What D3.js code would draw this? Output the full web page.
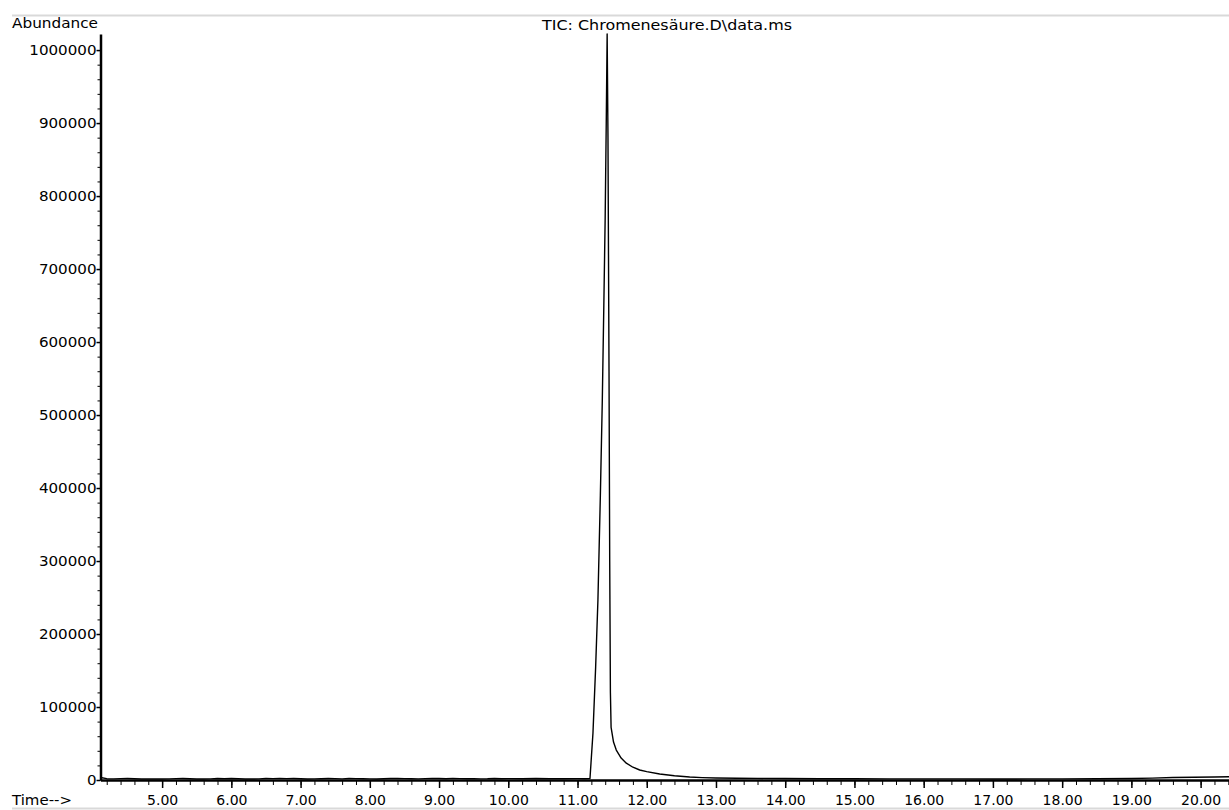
<!DOCTYPE html>
<html>
<head>
<meta charset="utf-8">
<script src="https://cdn.jsdelivr.net/npm/d3@7"></script>
<style>
    body { margin: 0; background: #fff; }
    text { font-family: "DejaVu Sans", sans-serif; fill: #000; }
    .axis path, .axis line { stroke: #000; }
    .line { fill: none; stroke: #000; stroke-width: 1.4; stroke-linejoin: round; }
</style>
</head>
<body>
<script>
// retention time (min) of the TIC trace
let times = [4.11, 4.2, 4.3, 4.4, 4.5, 4.6, 4.7, 4.8, 4.9, 5.0,
    5.1, 5.2, 5.3, 5.4, 5.5, 5.6, 5.7, 5.8, 5.9, 6.0,
    6.1, 6.2, 6.3, 6.4, 6.5, 6.6, 6.7, 6.8, 6.9, 7.0,
    7.1, 7.2, 7.3, 7.4, 7.5, 7.6, 7.7, 7.8, 7.9, 8.0,
    8.1, 8.2, 8.3, 8.4, 8.5, 8.6, 8.7, 8.8, 8.9, 9.0,
    9.1, 9.2, 9.3, 9.4, 9.5, 9.6, 9.7, 9.8, 9.9, 10.0,
    10.2, 10.4, 10.6, 10.8, 11.0, 11.1, 11.18,
    11.223, 11.262, 11.295, 11.33, 11.358, 11.38, 11.399, 11.415, 11.428,
    11.44, 11.455, 11.465, 11.475, 11.485, 11.52, 11.56, 11.63, 11.705, 11.8,
    11.898, 12.0, 12.187, 12.4, 12.62, 12.8, 13.0, 13.3, 13.6, 14.0,
    14.5, 15.0, 15.5, 16.0, 16.5, 17.0, 17.5, 18.0, 18.5, 19.0,
    19.3, 19.6, 19.9, 20.2, 20.41];

// abundance
let abundance = [3500, 1800, 1500, 1900, 2100, 1800, 1400, 1300, 1400, 1300,
    1500, 1900, 2000, 1700, 1400, 1400, 1600, 2000, 1800, 2100,
    1700, 1400, 1400, 1500, 2100, 1900, 2200, 1900, 2100, 1700,
    1400, 1500, 1800, 2100, 1900, 1600, 2000, 1900, 1700, 1500,
    1400, 1700, 2100, 2200, 1900, 1800, 1500, 1900, 2100, 2000,
    1800, 2200, 1900, 1700, 1900, 1600, 1700, 2100, 1800, 1900,
    1700, 2000, 1800, 1700, 1900, 1800, 2000,
    64000, 155000, 247000, 390000, 520000, 650000, 767000, 900000, 1022000,
    880000, 560000, 300000, 120000, 72000, 52000, 41000, 30000, 23000, 17500,
    13700, 11500, 8200, 5800, 4100, 3300, 2700, 2400, 2200, 2000,
    1800, 1700, 1600, 1500, 1500, 1400, 1500, 1500, 1700, 2000,
    2600, 3400, 3800, 4200, 4500];

// axis ticks
let xMajor = [5, 6, 7, 8, 9, 10, 11, 12, 13, 14, 15, 16, 17, 18, 19, 20];
let yMajor = [0, 100000, 200000, 300000, 400000, 500000, 600000, 700000, 800000, 900000, 1000000];

let title = "TIC: Chromenes\u00e4ure.D\\data.ms";

let W = 1229, H = 810;
let margin = {top: 34, right: 0, bottom: 30, left: 100.5},
    height = 780 - margin.top;

let x = d3.scaleLinear().domain([4.11, 20.41]).range([margin.left, W]);
let y = d3.scaleLinear().domain([0, 1022000]).range([780, margin.top]);

let data = times.map(function (t, i) { return {t: t, a: abundance[i]}; });

let svg = d3.select("body").append("svg")
    .attr("width", W)
    .attr("height", H);

// window frame lines
svg.append("line").attr("x1", 12).attr("x2", W).attr("y1", 15.5).attr("y2", 15.5)
    .attr("stroke", "#d9d9d9").attr("stroke-width", 2);
svg.append("line").attr("x1", 12).attr("x2", W).attr("y1", 808.5).attr("y2", 808.5)
    .attr("stroke", "#d9d9d9").attr("stroke-width", 2);

// minor ticks
let xMinor = d3.range(42, 205, 2).map(function (d) { return d / 10; });
let yMinor = d3.range(0, 1000001, 20000);

svg.append("g")
    .attr("class", "axis")
    .attr("transform", "translate(0,780)")
    .call(d3.axisBottom(x).tickValues(xMinor).tickSize(5).tickSizeOuter(0).tickFormat(""))
    .call(function (g) { g.select(".domain").remove(); });

svg.append("g")
    .attr("class", "axis")
    .attr("transform", "translate(" + margin.left + ",0)")
    .call(d3.axisLeft(y).tickValues(yMinor).tickSize(3).tickSizeOuter(0).tickFormat(""))
    .call(function (g) { g.select(".domain").remove(); });

// trace
let valueline = d3.line()
    .x(function (d) { return x(d.t); })
    .y(function (d) { return y(d.a); });

svg.append("path")
    .data([data])
    .attr("class", "line")
    .attr("d", valueline);

// major X axis
let xAxis = svg.append("g")
    .attr("class", "axis")
    .attr("transform", "translate(0,780)")
    .call(d3.axisBottom(x).tickValues(xMajor).tickSize(8).tickPadding(7).tickSizeOuter(0)
        .tickFormat(d3.format(".2f")));
xAxis.select(".domain").attr("stroke-width", 2.5);
xAxis.selectAll(".tick line").attr("stroke-width", 1.5);
xAxis.selectAll("text").style("font-size", "14px").attr("fill", "#000");

// major Y axis
let yAxis = svg.append("g")
    .attr("class", "axis")
    .attr("transform", "translate(" + margin.left + ",0)")
    .call(d3.axisLeft(y).tickValues(yMajor).tickSize(4).tickPadding(0).tickSizeOuter(0)
        .tickFormat(d3.format("d")));
yAxis.select(".domain").attr("stroke-width", 2.5);
yAxis.selectAll(".tick line").attr("stroke-width", 1.5);
yAxis.selectAll("text").style("font-size", "14px").attr("fill", "#000")
    .attr("textLength", function (d) { return String(d).length * 9.6; })
    .attr("lengthAdjust", "spacingAndGlyphs");

// labels
svg.append("text")
    .attr("x", 12).attr("y", 28)
    .style("font-size", "14px")
    .attr("textLength", 86).attr("lengthAdjust", "spacingAndGlyphs")
    .text("Abundance");

svg.append("text")
    .attr("x", 12).attr("y", 805)
    .style("font-size", "14px")
    .attr("textLength", 60).attr("lengthAdjust", "spacingAndGlyphs")
    .text("Time-->");

svg.append("text")
    .attr("x", 542).attr("y", 30)
    .style("font-size", "14px")
    .attr("textLength", 250).attr("lengthAdjust", "spacingAndGlyphs")
    .text(title);
</script>
</body>
</html>
